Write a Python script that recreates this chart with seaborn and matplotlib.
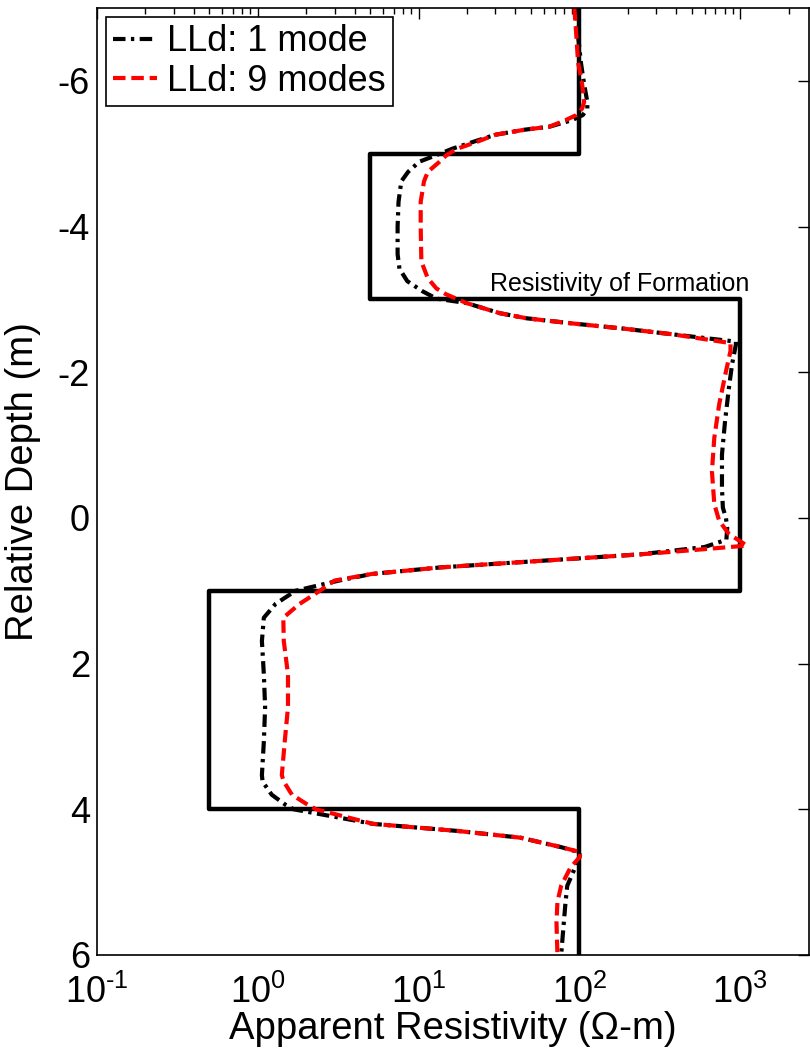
import numpy as np
import pandas as pd
import matplotlib
matplotlib.use("Agg")
import matplotlib.pyplot as plt
from matplotlib.ticker import LogLocator, NullFormatter, FixedLocator, FuncFormatter
import seaborn as sns

# ---- data ----
# formation model: layer boundaries (depth, m) and true resistivity (ohm-m)
formation_edges = [-7.0, -5.0, -3.0, 1.0, 4.0, 6.0]
formation_rt = [100, 5, 1000, 0.5, 100]

# LLd 1 mode
depth_1 = [-7.0, -6.63, -6.26, -5.95, -5.71, -5.62, -5.53, -5.46, -5.37, -5.33,
           -5.26, -5.16, -5.07, -4.98, -4.89, -4.75, -4.62, -4.34, -4.0, -3.62,
           -3.42, -3.25, -3.11, -3.01, -2.95, -2.81, -2.74, -2.67, -2.60, -2.52,
           -2.42, -2.38, -2.11, -1.78, -1.33, -0.87, -0.41, -0.14, 0.0, 0.14,
           0.30, 0.40, 0.50, 0.59, 0.68, 0.77, 0.86, 1.0, 1.18, 1.37,
           1.69, 2.15, 2.6, 3.07, 3.53, 3.62, 3.8, 3.94, 4.0, 4.2,
           4.3, 4.39, 4.52, 4.59, 4.66, 4.8, 5.05, 5.27, 5.55, 6.0]
rho_1 = [95, 98, 102, 107, 112, 112, 105, 90, 65, 46,
         30, 21.7, 16.3, 12.9, 10.1, 8.6, 7.8, 7.5, 7.4, 7.4,
         7.6, 8.5, 10.6, 12.9, 19.8, 32, 47, 90, 185, 380,
         940, 940, 890, 850, 805, 770, 770, 780, 815, 830,
         820, 600, 240, 57, 13.6, 5.1, 3.2, 1.72, 1.29, 1.09,
         1.06, 1.09, 1.11, 1.09, 1.06, 1.07, 1.22, 1.49, 1.67, 5.2,
         18, 43, 77, 100, 100, 94, 84, 82, 80, 77]

# LLd 9 modes
depth_9 = [-7.0, -6.63, -6.26, -5.95, -5.71, -5.62, -5.53, -5.46, -5.37, -5.33,
           -5.26, -5.16, -5.07, -4.98, -4.89, -4.75, -4.62, -4.34, -4.0, -3.52,
           -3.29, -3.15, -3.07, -2.95, -2.81, -2.74, -2.67, -2.60, -2.52, -2.40,
           -2.29, -2.01, -1.56, -1.1, -0.64, -0.19, 0.04, 0.22, 0.38, 0.45,
           0.50, 0.59, 0.68, 0.77, 0.86, 1.0, 1.18, 1.37, 1.69, 2.15,
           2.6, 3.07, 3.53, 3.62, 3.8, 3.94, 4.0, 4.2, 4.3, 4.39,
           4.52, 4.59, 4.66, 4.8, 5.05, 5.27, 5.55, 6.0]
rho_9 = [93, 95.6, 98, 104, 107, 104, 95.6, 82, 65, 46,
         30, 22.9, 17.5, 14.9, 13.5, 11.4, 10.8, 10.3, 10.3, 10.4,
         11.4, 12.9, 14.8, 19.8, 32, 47, 90, 185, 380, 870,
         870, 815, 740, 690, 667, 690, 740, 850, 1100, 460,
         240, 57, 13.6, 5.1, 3.0, 2.43, 1.82, 1.44, 1.45, 1.54,
         1.54, 1.47, 1.41, 1.45, 1.63, 2.05, 2.3, 5.2, 18, 43,
         77, 102, 100, 88, 77, 73, 72, 73]

# ---- style ----
sns.set_style("white")
plt.rcParams["font.family"] = ["Liberation Sans", "DejaVu Sans"]
plt.rcParams["mathtext.fontset"] = "custom"
plt.rcParams["mathtext.rm"] = "Liberation Sans"
plt.rcParams["mathtext.it"] = "Liberation Sans:italic"
plt.rcParams["mathtext.bf"] = "Liberation Sans:bold"
plt.rcParams["axes.unicode_minus"] = False
plt.rcParams["text.color"] = "black"
plt.rcParams["axes.labelcolor"] = "black"
plt.rcParams["xtick.color"] = "black"
plt.rcParams["ytick.color"] = "black"

fig = plt.figure(figsize=(8.1, 10.5), dpi=100)
ax = fig.add_axes([0.1198, 0.0905, 0.8792, 0.9019])

# formation step profile built from the layer arrays
step_d, step_r = [], []
for i, r in enumerate(formation_rt):
    step_d += [formation_edges[i], formation_edges[i + 1]]
    step_r += [r, r]
df_form = pd.DataFrame({"rho": step_r, "depth": step_d})
sns.lineplot(data=df_form, x="rho", y="depth", sort=False, estimator=None,
             color="black", lw=3.2, ax=ax, legend=False)

df1 = pd.DataFrame({"rho": rho_1, "depth": depth_1})
df9 = pd.DataFrame({"rho": rho_9, "depth": depth_9})
sns.lineplot(data=df1, x="rho", y="depth", sort=False, estimator=None,
             color="black", lw=3.0, ax=ax, label="LLd: 1 mode")
sns.lineplot(data=df9, x="rho", y="depth", sort=False, estimator=None,
             color="red", lw=3.0, ax=ax, label="LLd: 9 modes")
lines = ax.get_lines()
lines[1].set_dashes([3.0, 1.3, 0.8, 1.3])
lines[2].set_dashes([3.0, 1.4])

ax.set_xscale("log")
ax.set_xlim(0.1, 2685)
ax.set_ylim(6, -7)
ax.xaxis.set_major_locator(LogLocator(base=10, numticks=10))
ax.xaxis.set_minor_locator(LogLocator(base=10, subs=np.arange(2, 10), numticks=20))
ax.xaxis.set_minor_formatter(NullFormatter())


def log_fmt(v, pos):
    e = int(round(np.log10(v)))
    return r"$10^{\text{%d}}$" % e


ax.xaxis.set_major_formatter(FuncFormatter(log_fmt))
ax.yaxis.set_major_locator(FixedLocator([-6, -4, -2, 0, 2, 4, 6]))

ax.set_xlabel("Apparent Resistivity (\u03a9-m)", fontsize=27.5, labelpad=0)
ax.set_ylabel("Relative Depth (m)", fontsize=27.5, labelpad=12)

ax.tick_params(axis="both", which="both", direction="in", top=True, right=True,
               labelsize=26, width=1, color="black", labelcolor="black")
ax.tick_params(axis="both", which="major", length=8)
ax.tick_params(axis="x", which="major", pad=14)
ax.tick_params(axis="y", which="major", pad=5)
ax.tick_params(axis="both", which="minor", length=4)
for s in ax.spines.values():
    s.set_color("black")
    s.set_linewidth(1.2)

ax.text(27.6, -3.05, "Resistivity of Formation", fontsize=18, va="bottom",
        ha="left", color="black")

leg = ax.legend(loc="upper left", fontsize=26, frameon=True, fancybox=False,
                edgecolor="black", handlelength=1.2, handletextpad=0.3,
                labelspacing=0.12, borderpad=0.2, borderaxespad=0.25,
                framealpha=1)
leg.get_frame().set_linewidth(1.2)
for t in leg.get_texts():
    t.set_color("black")

fig.savefig("out.png", dpi=100)
